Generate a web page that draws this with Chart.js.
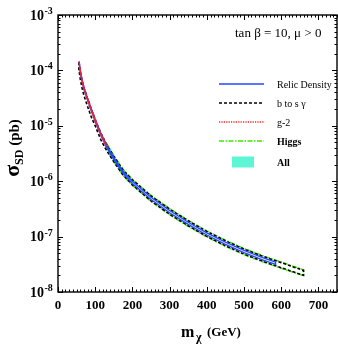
<!DOCTYPE html>
<html>
<head>
<meta charset="utf-8">
<script src="https://cdn.jsdelivr.net/npm/chart.js@4.4.1/dist/chart.umd.min.js"></script>
<style>
  html, body { margin: 0; padding: 0; background: #fff; }
  canvas { display: block; }
</style>
</head>
<body>
<canvas id="myChart" width="338" height="346"></canvas>
<script>
// neutralino mass (GeV) and sigma_SD (pb), upper / lower edge of each band
var massRelic = [57, 60, 65, 70, 80, 90, 100, 115, 130, 150, 175, 200, 250, 300, 350, 400, 450, 500, 550, 585];
var relicHigh = [1.45e-4, 9.77e-5, 6.61e-5, 4.90e-5, 3.09e-5, 2.00e-5, 1.32e-5, 7.41e-6, 4.57e-6, 2.69e-6, 1.51e-6, 1.00e-6, 5.13e-7, 2.95e-7, 1.82e-7, 1.17e-7, 7.94e-8, 5.62e-8, 4.17e-8, 3.47e-8];
var relicLow = [1.32e-4, 8.91e-5, 6.03e-5, 4.47e-5, 2.82e-5, 1.82e-5, 1.20e-5, 6.76e-6, 4.17e-6, 2.45e-6, 1.38e-6, 9.12e-7, 4.68e-7, 2.69e-7, 1.66e-7, 1.07e-7, 7.24e-8, 5.13e-8, 3.80e-8, 3.16e-8];

var massBsg = [56, 60, 65, 70, 80, 90, 100, 115, 130, 150, 175, 200, 250, 300, 350, 400, 450, 500, 550, 600, 660];
var bsgHigh = [1.41e-4, 9.55e-5, 6.46e-5, 4.79e-5, 3.02e-5, 1.95e-5, 1.29e-5, 7.41e-6, 4.68e-6, 2.82e-6, 1.58e-6, 1.06e-6, 5.43e-7, 3.13e-7, 1.93e-7, 1.24e-7, 8.41e-8, 5.96e-8, 4.42e-8, 3.39e-8, 2.45e-8];
var bsgLow = [1.05e-4, 6.92e-5, 4.68e-5, 3.47e-5, 2.19e-5, 1.41e-5, 1.00e-5, 5.62e-6, 3.63e-6, 2.24e-6, 1.29e-6, 8.61e-7, 4.42e-7, 2.54e-7, 1.57e-7, 1.01e-7, 6.84e-8, 4.84e-8, 3.59e-8, 2.75e-8, 2.00e-8];

var massG2 = [57, 60, 65, 70, 80, 90, 100, 115, 130];
var g2High = [1.45e-4, 9.77e-5, 6.61e-5, 4.90e-5, 3.09e-5, 2.00e-5, 1.32e-5, 7.41e-6, 4.57e-6];
var g2Low = [1.32e-4, 8.91e-5, 6.03e-5, 4.47e-5, 2.82e-5, 1.82e-5, 1.20e-5, 6.76e-6, 4.17e-6];

var massHiggs = [130, 150, 175, 200, 250, 300, 350, 400, 450, 500, 550, 600, 660];
var higgsHigh = [4.90e-6, 2.92e-6, 1.64e-6, 1.08e-6, 5.56e-7, 3.20e-7, 1.97e-7, 1.27e-7, 8.61e-8, 6.10e-8, 4.52e-8, 3.47e-8, 2.51e-8];
var higgsLow = [3.80e-6, 2.26e-6, 1.27e-6, 8.41e-7, 4.32e-7, 2.48e-7, 1.53e-7, 9.89e-8, 6.68e-8, 4.73e-8, 3.51e-8, 2.69e-8, 1.97e-8];

var massAll = [128, 140, 155, 170, 185];
var allHigh = [5.13e-6, 3.63e-6, 2.51e-6, 1.78e-6, 1.32e-6];
var allLow = [4.27e-6, 3.02e-6, 2.09e-6, 1.48e-6, 1.10e-6];

var xTicks = [0, 100, 200, 300, 400, 500, 600, 700];
var yTicks = [1e-3, 1e-4, 1e-5, 1e-6, 1e-7, 1e-8];
var yTickExp = ['-3', '-4', '-5', '-6', '-7', '-8'];
var legendLabels = ['Relic Density', 'b to s \u03b3', 'g-2', 'Higgs', 'All'];

var SERIF = '"Liberation Serif", "DejaVu Serif", serif';

// closed outline: upper edge forward, lower edge back
function band(m, hi, lo) {
    var pts = [];
    for (var i = 0; i < m.length; i++) pts.push({x: m[i], y: hi[i]});
    for (var j = m.length - 1; j >= 0; j--) pts.push({x: m[j], y: lo[j]});
    pts.push({x: m[0], y: hi[0]});
    return pts;
}
function edge(m, v) {
    return m.map(function (x, i) { return {x: x, y: v[i]}; });
}

var styles = [
    {color: '#2646ff', dash: [], width: 1.3},
    {color: '#000000', dash: [3, 2], width: 1.6},
    {color: '#ff2020', dash: [1.2, 1.2], width: 1.5},
    {color: '#3fe800', dash: [5, 1.5, 1.5, 1.5], width: 1.5},
    {color: '#5ef5d5'}
];

var framePlugin = {
    id: 'frame',
    beforeDraw: function (chart) {
        var c = chart.ctx;
        c.save();
        c.fillStyle = '#fff';
        c.fillRect(0, 0, chart.width, chart.height);
        c.restore();
    },
    afterDraw: function (chart) {
        var c = chart.ctx, a = chart.chartArea;
        var xs = chart.scales.x, ys = chart.scales.y;
        c.save();
        c.strokeStyle = '#000';
        c.fillStyle = '#000';
        c.lineWidth = 1.4;
        c.strokeRect(a.left, a.top, a.right - a.left, a.bottom - a.top);

        // x ticks (bottom and top, inward)
        c.lineWidth = 1;
        c.beginPath();
        for (var v = 0; v <= 750; v += 10) {
            var px = Math.round(xs.getPixelForValue(v)) + 0.5;
            var len = (v % 100 === 0) ? 5 : 2.5;
            c.moveTo(px, a.bottom); c.lineTo(px, a.bottom - len);
            c.moveTo(px, a.top); c.lineTo(px, a.top + len);
        }
        // y ticks (left and right, log minor)
        for (var d = 0; d < yTicks.length; d++) {
            for (var k = 1; k <= 9; k++) {
                var val = yTicks[d] * k;
                if (val > 1.0001e-3) continue;
                var py = Math.round(ys.getPixelForValue(val)) + 0.5;
                var l2 = k === 1 ? 5 : 2.5;
                c.moveTo(a.left, py); c.lineTo(a.left + l2, py);
                c.moveTo(a.right, py); c.lineTo(a.right - l2, py);
            }
        }
        c.stroke();

        // x tick labels
        c.font = 'bold 13px ' + SERIF;
        c.textAlign = 'center';
        c.textBaseline = 'alphabetic';
        xTicks.forEach(function (t) {
            c.fillText(String(t), xs.getPixelForValue(t), 309);
        });

        // y tick labels 10^n
        yTicks.forEach(function (t, i) {
            var py = ys.getPixelForValue(t);
            c.font = 'bold 14px ' + SERIF;
            c.textAlign = 'right';
            c.textBaseline = 'middle';
            c.fillText('10', 44, py + 1);
            c.font = 'bold 10px ' + SERIF;
            c.textAlign = 'left';
            c.textBaseline = 'alphabetic';
            c.fillText(yTickExp[i], 44.5, py - 1);
        });

        // x axis title  m_chi (GeV)
        c.textAlign = 'left';
        c.textBaseline = 'alphabetic';
        c.font = 'bold 16px ' + SERIF;
        c.fillText('m', 181, 337);
        c.font = 'bold 12px ' + SERIF;
        c.fillText('\u03c7', 196, 341);
        c.font = 'bold 13px ' + SERIF;
        c.fillText('(GeV)', 207, 336);

        // y axis title  sigma_SD (pb)
        c.save();
        c.translate(19, 148);
        c.rotate(-Math.PI / 2);
        c.font = 'bold 22px ' + SERIF;
        var w1 = c.measureText('\u03c3').width;
        c.font = 'bold 12px ' + SERIF;
        var w2 = c.measureText('SD').width;
        c.font = 'bold 15px ' + SERIF;
        var w3 = c.measureText(' (pb)').width;
        var x0 = -(w1 + w2 + w3) / 2;
        c.font = 'bold 22px ' + SERIF;
        c.fillText('\u03c3', x0, 0);
        c.font = 'bold 12px ' + SERIF;
        c.fillText('SD', x0 + w1, 4);
        c.font = 'bold 15px ' + SERIF;
        c.fillText(' (pb)', x0 + w1 + w2, 0);
        c.restore();

        // annotation
        c.font = '13px ' + SERIF;
        c.textAlign = 'left';
        c.fillText('tan \u03b2 = 10, \u03bc > 0', 235, 37);

        // legend
        var rows = [84, 103, 122, 141, 162];
        legendLabels.forEach(function (lab, i) {
            var s = styles[i], y = rows[i];
            if (i === 4) {
                c.fillStyle = s.color;
                c.fillRect(232, y - 5.5, 22, 11);
            } else {
                c.strokeStyle = s.color;
                c.lineWidth = s.width;
                c.setLineDash(s.dash);
                c.beginPath();
                c.moveTo(219, y); c.lineTo(264, y);
                c.stroke();
                c.setLineDash([]);
            }
            c.fillStyle = '#000';
            c.font = ((i >= 3) ? 'bold ' : '') + '10px ' + SERIF;
            c.fillText(lab, 277, y + 3.5);
        });
        c.restore();
    }
};

var ctx = document.getElementById('myChart').getContext('2d');
var chart = new Chart(ctx, {
    type: 'line',
    data: {
        datasets: [
            {label: 'g-2', data: band(massG2, g2High, g2Low), borderColor: styles[2].color,
             borderDash: styles[2].dash, borderWidth: styles[2].width, fill: false, order: 0},
            {label: 'Relic Density', data: band(massRelic, relicHigh, relicLow), borderColor: styles[0].color,
             borderWidth: styles[0].width, fill: false, order: 1},
            {label: 'b to s gamma', data: band(massBsg, bsgHigh, bsgLow), borderColor: styles[1].color,
             borderDash: styles[1].dash, borderWidth: styles[1].width, fill: false, order: 2},
            {label: 'Higgs', data: band(massHiggs, higgsHigh, higgsLow), borderColor: styles[3].color,
             borderDash: styles[3].dash, borderWidth: styles[3].width, fill: false, order: 3},
            {label: 'All', data: edge(massAll, allHigh), borderWidth: 0, borderColor: 'rgba(0,0,0,0)',
             backgroundColor: styles[4].color, fill: '+1', order: 4},
            {label: 'All low', data: edge(massAll, allLow), borderWidth: 0, borderColor: 'rgba(0,0,0,0)',
             fill: false, order: 5}
        ]
    },
    options: {
        responsive: false,
        animation: false,
        devicePixelRatio: 1,
        layout: {padding: {left: 58, right: 1, top: 15, bottom: 54}},
        elements: {point: {radius: 0}, line: {tension: 0}},
        plugins: {legend: {display: false}, tooltip: {enabled: false}},
        scales: {
            x: {type: 'linear', min: 0, max: 750, display: false},
            y: {type: 'logarithmic', min: 1e-8, max: 1e-3, display: false}
        }
    },
    plugins: [framePlugin]
});
</script>
</body>
</html>
